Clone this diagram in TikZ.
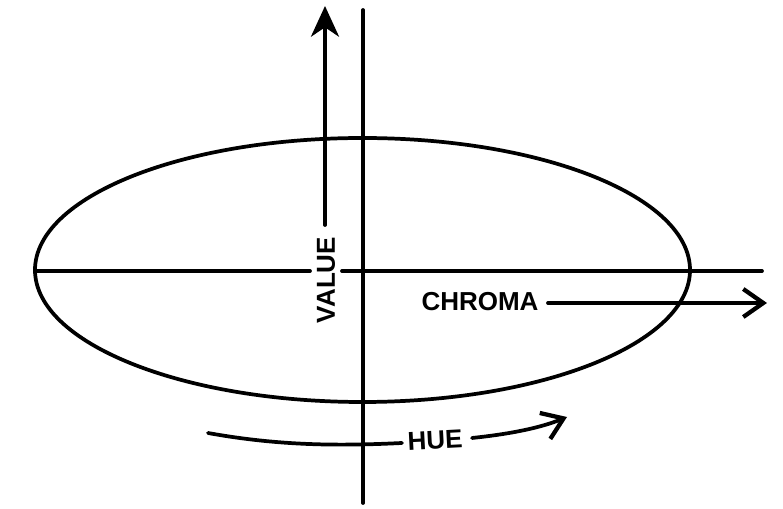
\documentclass[tikz,border=0pt]{standalone}
\usepackage{fontspec}
\setmainfont{Liberation Sans}
\usetikzlibrary{arrows.meta}
\begin{document}
\begin{tikzpicture}[x=0.75pt,y=-0.75pt,
  ln/.style={line width=2.8pt, line cap=round},
  lbl/.style={font=\fontsize{19.5}{21}\selectfont\bfseries, inner sep=5pt},
  barb/.style={-{Straight Barb[length=15pt,width=21pt,line width=3.2pt]}},
  stealthhead/.style={-{Stealth[length=23pt,width=21pt,inset=7pt]}}]
\useasboundingbox (0,0) rectangle (783,509);
% ellipse
\draw[ln] (362.5,270) ellipse [x radius=327.5, y radius=132];
% vertical axis
\coordinate (vtop) at (363,10);
\coordinate (vbot) at (363,503);
\draw[ln] (vtop) -- (vbot);
% labels
\node[lbl, rotate=90] (value) at (326,280) {VALUE};
\node[lbl] (chroma) at (480,302) {CHROMA};
\node[lbl, rotate=3] (hue) at (435,440) {HUE};
% horizontal axis
\coordinate (hl) at (35,271);
\coordinate (hr) at (762,271);
\draw[ln] (hl) -- (value.north |- hl);
\draw[ln] (value.south |- hl) -- (hr);
% value arrow
\coordinate (va1) at (325,225);
\coordinate (va2) at (325,6);
\draw[ln, stealthhead] (va1) -- (va2);
% chroma arrow
\coordinate (ca1) at (548,303);
\coordinate (ca2) at (767,303);
\draw[ln, barb] (ca1) -- (ca2);
% hue curves
\coordinate (h1) at (208,433);
\coordinate (h2) at (402,443);
\draw[ln] (h1) .. controls (280,446) and (340,446) .. (h2);
\coordinate (h3) at (472,438);
\coordinate (h4) at (567,417);
\draw[ln, barb] (h3) .. controls (510,434) and (540,428) .. (h4);
\end{tikzpicture}
\end{document}
